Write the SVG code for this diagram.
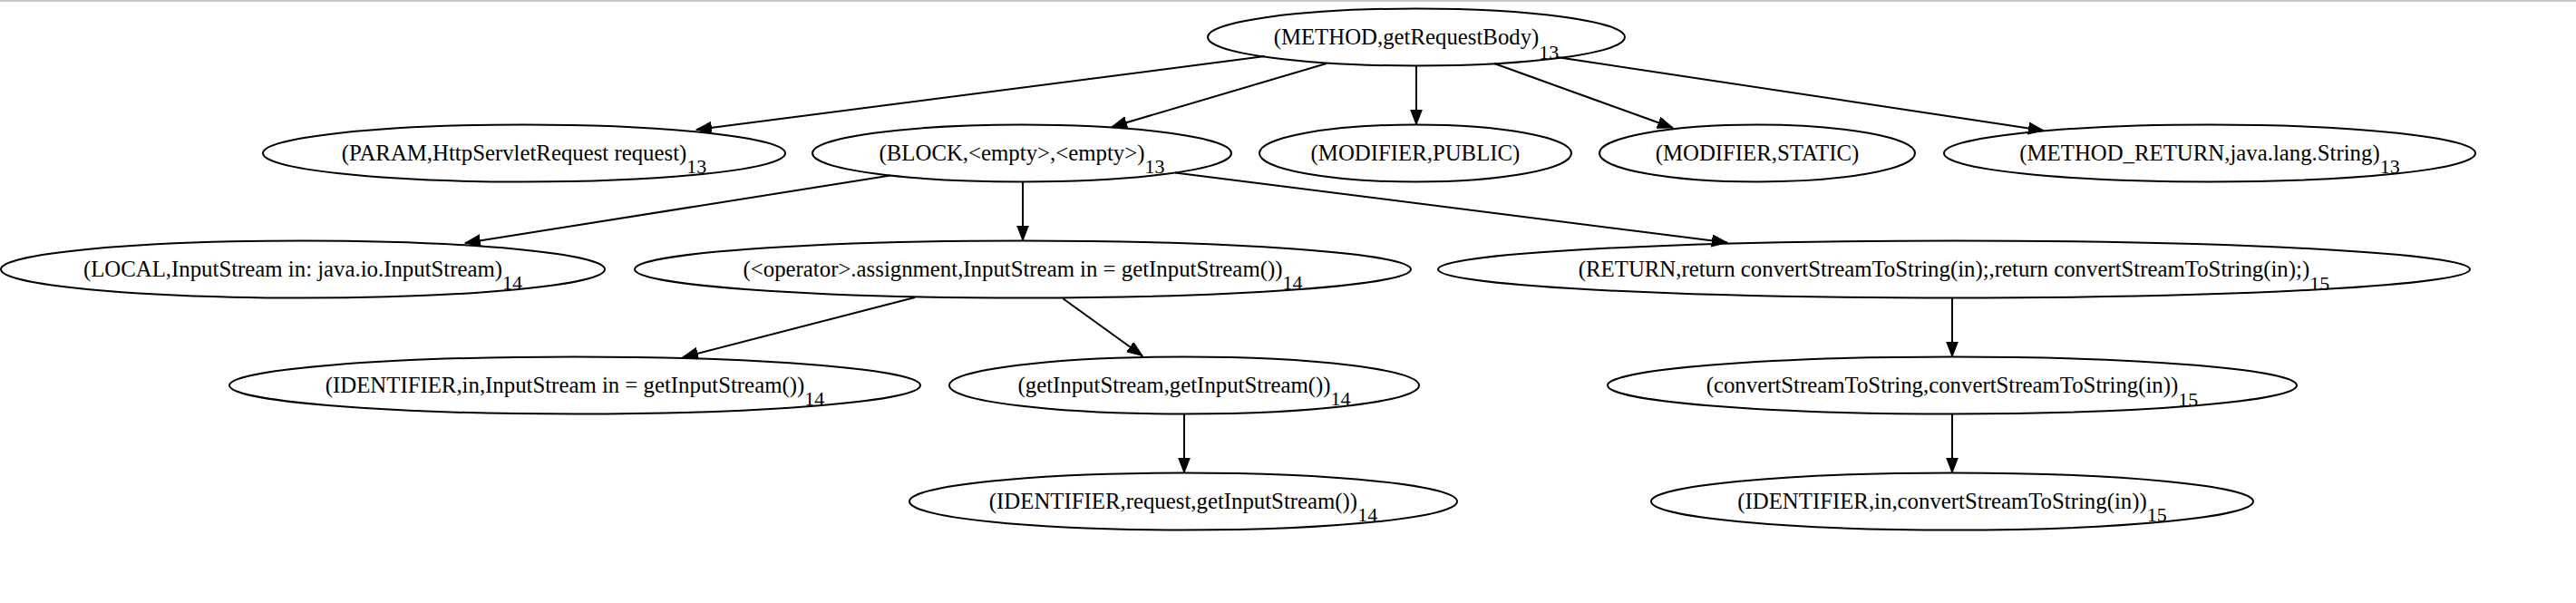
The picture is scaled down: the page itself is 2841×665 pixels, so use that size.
<svg xmlns="http://www.w3.org/2000/svg" width="2841" height="665" viewBox="0 0 2841 665">
<style>
.n ellipse{fill:none;stroke:#000;stroke-width:2}
.n text{font-family:"Liberation Serif","Times New Roman",serif;font-size:24.8px;fill:#000;text-anchor:middle}
.n tspan{font-size:22px}
.e line{stroke:#000;stroke-width:2;marker-end:url(#ah)}
</style>
<defs>
<marker id="ah" markerUnits="userSpaceOnUse" markerWidth="18" markerHeight="14" refX="17" refY="6.5" orient="auto">
<path d="M0,0 L17,6.5 L0,13 Z" fill="#000" stroke="#000" stroke-width="1"/>
</marker>
</defs>
<rect x="0" y="0" width="2841" height="665" fill="#fff"/>
<rect x="0" y="0" width="2841" height="2" fill="#c8c8c8"/>
<g id="edges" class="e">
<line x1="1395" y1="62" x2="768" y2="143"/>
<line x1="1463" y1="70" x2="1226" y2="140"/>
<line x1="1562" y1="72.5" x2="1562" y2="137.5"/>
<line x1="1648" y1="70" x2="1845" y2="141"/>
<line x1="1717" y1="63" x2="2254" y2="144"/>
<line x1="982" y1="193.5" x2="513" y2="268"/>
<line x1="1128" y1="200.5" x2="1128" y2="265.5"/>
<line x1="1296" y1="190.5" x2="1905" y2="267.5"/>
<line x1="1009" y1="328" x2="753" y2="394"/>
<line x1="1172" y1="329" x2="1260" y2="392.5"/>
<line x1="1306" y1="456.5" x2="1306" y2="521.5"/>
<line x1="2153" y1="328.5" x2="2153" y2="393.5"/>
<line x1="2153" y1="456.5" x2="2153" y2="521.5"/>
</g>
<g id="n_method" class="n"><ellipse cx="1562" cy="41" rx="230" ry="31.5"/><text x="1562" y="49">(METHOD,getRequestBody)<tspan dy="16">13</tspan></text></g>
<g id="n_param" class="n"><ellipse cx="578" cy="169" rx="288" ry="31.5"/><text x="578" y="177">(PARAM,HttpServletRequest request)<tspan dy="14">13</tspan></text></g>
<g id="n_block" class="n"><ellipse cx="1127" cy="169" rx="231" ry="31.5"/><text x="1127" y="177">(BLOCK,&lt;empty&gt;,&lt;empty&gt;)<tspan dy="14">13</tspan></text></g>
<g id="n_public" class="n"><ellipse cx="1561" cy="169" rx="172" ry="31.5"/><text x="1561" y="177">(MODIFIER,PUBLIC)</text></g>
<g id="n_static" class="n"><ellipse cx="1938" cy="169" rx="174" ry="31.5"/><text x="1938" y="177">(MODIFIER,STATIC)</text></g>
<g id="n_mreturn" class="n"><ellipse cx="2437" cy="169" rx="293" ry="31.5"/><text x="2437" y="177">(METHOD_RETURN,java.lang.String)<tspan dy="14">13</tspan></text></g>
<g id="n_local" class="n"><ellipse cx="334" cy="297" rx="333" ry="31.5"/><text x="334" y="305">(LOCAL,InputStream in: java.io.InputStream)<tspan dy="14">14</tspan></text></g>
<g id="n_assign" class="n"><ellipse cx="1128" cy="297" rx="428" ry="31.5"/><text x="1128" y="305">(&lt;operator&gt;.assignment,InputStream in = getInputStream())<tspan dy="14">14</tspan></text></g>
<g id="n_return" class="n"><ellipse cx="2155" cy="297" rx="569" ry="31.5"/><text x="2155" y="305">(RETURN,return convertStreamToString(in);,return convertStreamToString(in);)<tspan dy="15">15</tspan></text></g>
<g id="n_ident_in" class="n"><ellipse cx="634" cy="425" rx="381" ry="31.5"/><text x="634" y="433">(IDENTIFIER,in,InputStream in = getInputStream())<tspan dy="14">14</tspan></text></g>
<g id="n_getinput" class="n"><ellipse cx="1306" cy="425" rx="259" ry="31.5"/><text x="1306" y="433">(getInputStream,getInputStream())<tspan dy="14">14</tspan></text></g>
<g id="n_convert" class="n"><ellipse cx="2153" cy="425" rx="380" ry="31.5"/><text x="2153" y="433">(convertStreamToString,convertStreamToString(in))<tspan dy="15">15</tspan></text></g>
<g id="n_ident_req" class="n"><ellipse cx="1305" cy="553" rx="302" ry="31.5"/><text x="1305" y="561">(IDENTIFIER,request,getInputStream())<tspan dy="14">14</tspan></text></g>
<g id="n_ident_in2" class="n"><ellipse cx="2153" cy="553" rx="332" ry="31.5"/><text x="2153" y="561">(IDENTIFIER,in,convertStreamToString(in))<tspan dy="14">15</tspan></text></g>
</svg>
